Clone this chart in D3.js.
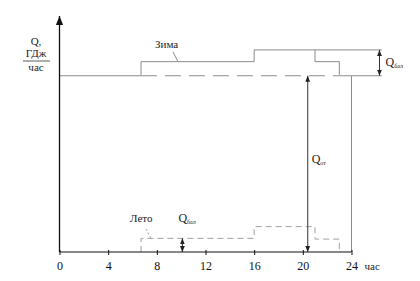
<!DOCTYPE html>
<html>
<head>
<meta charset="utf-8">
<script src="https://cdn.jsdelivr.net/npm/d3@7"></script>
<style>
  body { margin: 0; background: #fff; }
  svg, svg text { font-family: "Liberation Serif", "DejaVu Serif", serif; }
</style>
</head>
<body>
<svg id="chart" width="420" height="281"></svg>
<script>
// hours where the load changes
var hours = [0, 6.7, 16, 21, 23, 24];
// winter load per interval (relative units)
var winterLoad = [75, 81, 86, 81, 75];
// summer load per interval
var summerLoad = [0, 5.8, 10.8, 5.5, 0];
var xTicks = [0, 4, 8, 12, 16, 20, 24];
var qOtHour = 20.4;      // position of Q_от arrow
var qBalSummerHour = 10.1;
var qBalWinterHour = 26.3;
var extendHour = 26.5;

var svg = d3.select("#chart");

var x = d3.scaleLinear().domain([0, 24]).range([59.5, 351.5]);
var y = d3.scaleLinear().domain([0, 100]).range([252, 17]);

var lineColor = "#8c8c8c";

// arrow markers
var defs = svg.append("defs");
function marker(id, color, size) {
    defs.append("marker")
        .attr("id", id)
        .attr("viewBox", "0 0 10 10")
        .attr("refX", 10).attr("refY", 5)
        .attr("markerWidth", size).attr("markerHeight", size)
        .attr("orient", "auto-start-reverse")
        .attr("markerUnits", "userSpaceOnUse")
        .append("path")
        .attr("d", "M0,1 L10,5 L0,9 Z")
        .attr("fill", color);
}
marker("arrAxis", "#111", 9);
marker("arrSmall", "#222", 6);

// build step points
function stepPoints(levels) {
    var pts = [];
    levels.forEach(function (v, i) {
        pts.push([hours[i], v]);
        pts.push([hours[i + 1], v]);
    });
    return pts;
}

var line = d3.line().x(function (d) { return x(d[0]); }).y(function (d) { return y(d[1]); });

// winter: solid profile
var winterPts = stepPoints(winterLoad);
winterPts.push([24, 0]);
svg.append("path")
    .attr("d", line(winterPts))
    .attr("fill", "none")
    .attr("stroke", lineColor)
    .attr("stroke-width", 1);

// winter base level dashed under the raised part
svg.append("line")
    .attr("x1", x(hours[1])).attr("x2", x(hours[4]))
    .attr("y1", y(winterLoad[0])).attr("y2", y(winterLoad[0]))
    .attr("stroke", "#ffffff").attr("stroke-width", 2);
svg.append("line")
    .attr("x1", x(hours[1])).attr("x2", x(hours[4]))
    .attr("y1", y(winterLoad[0])).attr("y2", y(winterLoad[0]))
    .attr("stroke", lineColor).attr("stroke-width", 1)
    .attr("stroke-dasharray", "16,8");

// extension lines for Q_бал (winter)
svg.append("line")
    .attr("x1", x(hours[3])).attr("x2", x(extendHour))
    .attr("y1", y(d3.max(winterLoad))).attr("y2", y(d3.max(winterLoad)))
    .attr("stroke", lineColor);
svg.append("line")
    .attr("x1", x(24)).attr("x2", x(extendHour))
    .attr("y1", y(winterLoad[0])).attr("y2", y(winterLoad[0]))
    .attr("stroke", lineColor);

// summer: dashed profile
var summerPts = [];
summerPts.push([hours[1], 0]);
for (var i = 1; i < 4; i++) {
    summerPts.push([hours[i], summerLoad[i]]);
    summerPts.push([hours[i + 1], summerLoad[i]]);
}
summerPts.push([hours[4], 0]);
svg.append("path")
    .attr("d", line(summerPts))
    .attr("fill", "none")
    .attr("stroke", "#a0a0a0")
    .attr("stroke-width", 1)
    .attr("stroke-dasharray", "6,4");

// axes
svg.append("line")
    .attr("x1", x(0)).attr("x2", x(0))
    .attr("y1", y(0)).attr("y2", 16)
    .attr("stroke", "#111").attr("stroke-width", 1.3)
    .attr("marker-end", "url(#arrAxis)");

var xAxis = d3.axisBottom(x).tickValues(xTicks).tickSize(3).tickPadding(6);
var gx = svg.append("g")
    .attr("transform", "translate(0," + y(0) + ")")
    .call(xAxis)
    .attr("font-family", null)
    .attr("font-size", null);
gx.select(".domain").attr("stroke", "#111").attr("stroke-width", 1.2).attr("d", "M" + x(0) + ",0H" + x(24));
gx.selectAll(".tick line").attr("stroke", "#111").attr("y1", -2);
gx.selectAll(".tick text")
    .attr("font-size", 12)
    .attr("fill", "#111");

svg.append("text")
    .attr("x", x(24) + 13).attr("y", 270)
    .attr("font-size", 11).attr("fill", "#222")
    .text("час");

// y-axis label
var lab = svg.append("g").attr("fill", "#222").attr("font-size", 11).attr("text-anchor", "middle");
lab.append("text").attr("x", 36).attr("y", 45).text("Q,");
lab.append("text").attr("x", 36).attr("y", 57).text("ГДж");
svg.append("line").attr("x1", 23).attr("x2", 50).attr("y1", 61).attr("y2", 61)
    .attr("stroke", "#333").attr("stroke-width", 0.8);
lab.append("text").attr("x", 36).attr("y", 71).text("час");

// Q_от arrow
svg.append("line")
    .attr("x1", x(qOtHour)).attr("x2", x(qOtHour))
    .attr("y1", y(0)).attr("y2", y(winterLoad[0]))
    .attr("stroke", "#555").attr("stroke-width", 1.2)
    .attr("marker-start", "url(#arrSmall)")
    .attr("marker-end", "url(#arrSmall)");
var qot = svg.append("text").attr("x", x(qOtHour) + 4).attr("y", 163)
    .attr("font-size", 12).attr("fill", "#222");
qot.append("tspan").text("Q");
qot.append("tspan").attr("font-size", 6).attr("dy", 2).text("от");

// Q_бал winter arrow
svg.append("line")
    .attr("x1", x(qBalWinterHour)).attr("x2", x(qBalWinterHour))
    .attr("y1", y(winterLoad[0])).attr("y2", y(d3.max(winterLoad)))
    .attr("stroke", "#333").attr("stroke-width", 1)
    .attr("marker-start", "url(#arrSmall)")
    .attr("marker-end", "url(#arrSmall)");
var qbw = svg.append("text").attr("x", x(qBalWinterHour) + 6).attr("y", 66)
    .attr("font-size", 12).attr("fill", "#222");
qbw.append("tspan").text("Q");
qbw.append("tspan").attr("font-size", 6).attr("dy", 2).text("бал");

// Q_бал summer arrow
svg.append("line")
    .attr("x1", x(qBalSummerHour)).attr("x2", x(qBalSummerHour))
    .attr("y1", y(0)).attr("y2", y(summerLoad[1]))
    .attr("stroke", "#222").attr("stroke-width", 1)
    .attr("marker-start", "url(#arrSmall)")
    .attr("marker-end", "url(#arrSmall)");
var qbs = svg.append("text").attr("x", x(qBalSummerHour) - 4).attr("y", 222)
    .attr("font-size", 12).attr("fill", "#222");
qbs.append("tspan").text("Q");
qbs.append("tspan").attr("font-size", 6).attr("dy", 2).text("бал");

// series labels with leader lines
svg.append("text").attr("x", 155).attr("y", 48).attr("font-size", 11).attr("fill", "#222").text("Зима");
svg.append("line").attr("x1", 173).attr("y1", 52).attr("x2", 178).attr("y2", y(winterLoad[1]))
    .attr("stroke", lineColor);
svg.append("text").attr("x", 130).attr("y", 222).attr("font-size", 11).attr("fill", "#222").text("Лето");
svg.append("line").attr("x1", 146).attr("y1", 229).attr("x2", 151).attr("y2", y(summerLoad[1]))
    .attr("stroke", "#a0a0a0").attr("stroke-dasharray", "2,2");
</script>
</body>
</html>
